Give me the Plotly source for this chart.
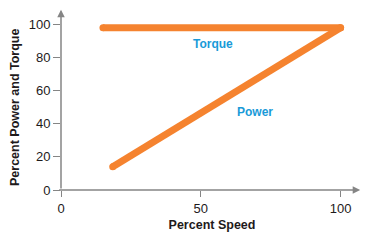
import plotly.graph_objects as go

speed_torque = [15, 100]
torque = [98, 98]
speed_power = [18.5, 100]
power = [14, 98]
x_ticks = [0, 50, 100]
y_ticks = [0, 20, 40, 60, 80, 100]

orange = "#F5832F"
blue = "#1A9AD8"
gray = "#858585"
dark = "#1E1A1B"
ff = "Liberation Sans, Arial, sans-serif"

fig = go.Figure()
fig.add_trace(go.Scatter(x=speed_torque, y=torque, mode="lines+markers",
                         line=dict(color=orange, width=7),
                         marker=dict(color=orange, size=7), showlegend=False, hoverinfo="skip"))
fig.add_trace(go.Scatter(x=speed_power, y=power, mode="lines+markers",
                         line=dict(color=orange, width=7),
                         marker=dict(color=orange, size=7), showlegend=False, hoverinfo="skip"))

font_ticks = dict(family=ff, size=13, color=dark)
fig.update_xaxes(range=[0, 108], tickvals=x_ticks, showgrid=False, zeroline=False, showline=False,
                 ticks="outside", ticklen=6, tickcolor=gray, tickwidth=1, tickfont=font_ticks,
                 ticklabelstandoff=0,
                 title=dict(text="<b>Percent Speed</b>", font=dict(family=ff, size=12.5, color=dark), standoff=5))
fig.update_yaxes(range=[0, 110], tickvals=y_ticks, showgrid=False, zeroline=False, showline=False,
                 ticks="outside", ticklen=7, tickcolor=gray, tickwidth=1, tickfont=font_ticks,
                 title=dict(text=""))

fig.add_annotation(text="<b>Percent Power and Torque</b>", textangle=-90, showarrow=False,
                   xref="paper", yref="paper", x=(15 - 61) / 302.0, y=(190 - 108) / 182.0,
                   xanchor="center", yanchor="middle",
                   font=dict(family=ff, size=12.5, color=dark))

# axis lines with arrows
fig.add_annotation(x=107, y=0, ax=-1.2, ay=0, xref="x", yref="y", axref="x", ayref="y",
                   showarrow=True, arrowhead=2, arrowsize=1, arrowwidth=1.5, arrowcolor=gray, text="")
fig.add_annotation(x=0, y=109, ax=0, ay=0, xref="x", yref="y", axref="x", ayref="y",
                   showarrow=True, arrowhead=2, arrowsize=1, arrowwidth=1.5, arrowcolor=gray, text="")

lab_font = dict(family=ff, size=12, color=blue)
fig.add_annotation(x=54.3, y=88.5, text="<b>Torque</b>", showarrow=False, font=lab_font)
fig.add_annotation(x=69.3, y=47.3, text="<b>Power</b>", showarrow=False, font=lab_font)

fig.update_layout(width=367, height=240, margin=dict(l=61, r=4, t=8, b=50),
                  plot_bgcolor="white", paper_bgcolor="white")
fig.write_html("out.html")
